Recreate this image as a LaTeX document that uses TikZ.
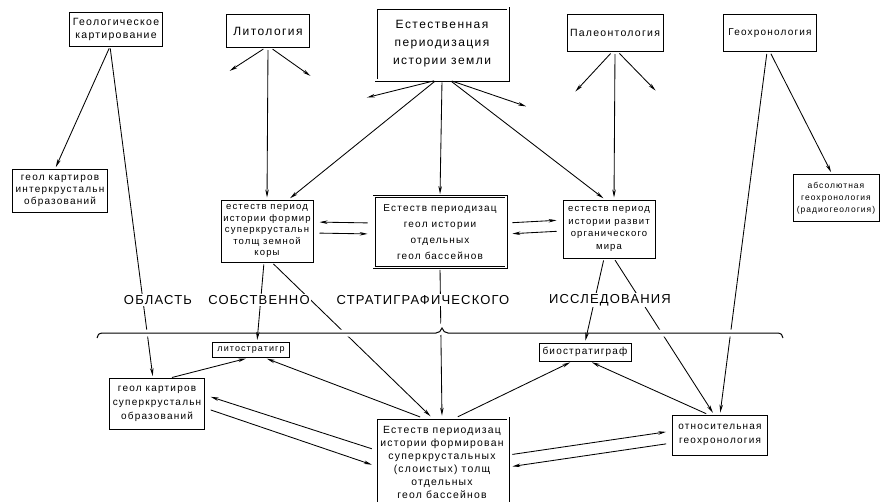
\documentclass[tikz,border=0pt]{standalone}
\usepackage{fontspec}
\setmainfont{Liberation Sans}[LetterSpace=12]
\newfontfamily\capsfont{Liberation Sans}[LetterSpace=9]
\usepackage{tikz}
\usetikzlibrary{arrows.meta}
\newcommand{\fnt}[2]{\fontsize{#1}{#2}\selectfont}

\tikzset{
  box/.style={draw,line width=1pt,align=center,inner sep=1pt},
  dbox/.style={box,double,double distance=1.6pt,line width=0.7pt},
  lbl/.style={fill=white,inner sep=1pt,font=\capsfont\fnt{13}{15}},
  con/.style={line width=0.85pt,->,shorten >=2pt,shorten <=2pt},
}

\begin{document}
\begin{tikzpicture}[x=1pt,y=-1pt,>={Stealth[length=8pt,width=3.5pt]}]
\useasboundingbox (0,0) rectangle (880,501);

\node[box,minimum width=93,minimum height=34,font=\fnt{10.5}{13}] (geokart) at (116,29) {Геологическое\\картирование};
\node[box,minimum width=83,minimum height=33,font=\fnt{12}{14}] (lito) at (268,31) {Литология};
\node[dbox,minimum width=132,minimum height=72,font=\fnt{12}{18}] (estper) at (442,44) {Естественная\\периодизация\\истории земли};
\node[box,minimum width=96,minimum height=37,font=\fnt{10.5}{13}] (paleo) at (615,33) {Палеонтология};
\node[box,minimum width=93,minimum height=37,font=\fnt{10}{13}] (geochr) at (770,33) {Геохронология};

\node[box,minimum width=95,minimum height=43,font=\fnt{10}{12}] (intkart) at (60,191) {геол картиров\\интеркрустальн\\образований};
\node[box,minimum width=92,minimum height=62,font=\fnt{9.5}{11.5}] (supform) at (267,231) {естеств период\\истории формир\\суперкрустальн\\толщ земной\\коры};
\node[dbox,minimum width=132,minimum height=71,font=\fnt{10}{16}] (basper) at (440,232) {Естеств периодизац\\геол истории\\отдельных\\геол бассейнов};
\node[box,minimum width=92,minimum height=58,font=\fnt{9.5}{12.5}] (orgmir) at (609,229) {естеств период\\истории развит\\органического\\мира};
\node[box,minimum width=86,minimum height=47,font=\fnt{8.5}{12}] (absgeo) at (836,198) {абсолютная\\геохронология\\(радиогеология)};

\node[box,minimum width=77,minimum height=15,font=\fnt{9}{10}] (litstr) at (251,350) {литостратигр};
\node[box,minimum width=92,minimum height=18,font=\fnt{10}{11}] (biostr) at (585,352) {биостратиграф};
\node[box,minimum width=95,minimum height=51,font=\fnt{10}{14}] (supkart) at (157,404) {геол картиров\\суперкрустальн\\образований};
\node[dbox,minimum width=132,minimum height=88,font=\fnt{10.4}{13}] (basform) at (442,462) {Естеств периодизац\\истории формирован\\суперкрустальных\\(слоистых) толщ\\отдельных\\геол бассейнов};
\node[box,minimum width=95,minimum height=40,font=\fnt{10}{14}] (otngeo) at (720,435) {относительная\\геохронология};

\coordinate (litL) at (228,72);
\coordinate (litR) at (312,77);
\coordinate (estL) at (365,98);
\coordinate (estR) at (528,107);
\coordinate (palL) at (574,93);
\coordinate (palR) at (657,92);
\coordinate (brL) at (97,338);
\coordinate (brR) at (783,338);

\draw[con] ([xshift=-6pt]geokart.south) -- ([xshift=-5pt]intkart.north);
\draw[con] ([xshift=-6pt]geokart.south) -- ([xshift=-4pt]supkart.north);
\draw[con] (lito.south) -- (supform.north);
\draw[con] ([xshift=-3pt]lito.south) -- (litL);
\draw[con] ([xshift=3pt]lito.south) -- (litR);
\draw[con] ([xshift=-6pt]estper.south) -- (estL);
\draw[con] ([xshift=8pt]estper.south) -- (estR);
\draw[con] ([xshift=-6pt]estper.south) -- ([xshift=-25pt]supform.north east);
\draw[con] (estper.south) -- (basper.north);
\draw[con] ([xshift=8pt]estper.south) -- ([xshift=-4pt]orgmir.north);
\draw[con] ([xshift=-3pt]paleo.south) -- (palL);
\draw[con] ([xshift=3pt]paleo.south) -- (palR);
\draw[con] (paleo.south) -- ([xshift=5pt]orgmir.north);
\draw[con] (geochr.south) -- ([xshift=-4pt]absgeo.north);
\draw[con] ([xshift=-3pt]geochr.south) -- (otngeo.north);

\draw[con,shorten >=6pt,shorten <=6pt] ([yshift=9pt]basper.west) -- ([yshift=9pt]supform.east);
\draw[con,shorten >=6pt,shorten <=6pt] ([yshift=-2pt]supform.east) -- ([yshift=-2pt]basper.west);
\draw[con,shorten >=6pt,shorten <=6pt] ([yshift=9pt]basper.east) -- ([yshift=9pt]orgmir.west);
\draw[con,shorten >=6pt,shorten <=6pt] ([yshift=-2pt]orgmir.west) -- ([yshift=-2pt]basper.east);

\draw[con] ([xshift=5pt]supform.south) -- ([xshift=-10pt]basform.north);
\draw[con] (basper.south) -- (basform.north);
\draw[con] ([xshift=5pt]orgmir.south) -- ([xshift=-6pt]otngeo.north);

% brace over the lower row
\draw[line width=1pt,preaction={draw=white,line width=7pt}]
  (brL) .. controls (97,335) and (99,333) .. (103,333) -- (436,333)
  .. controls (439,333) and (441,331) .. (442,328)
  .. controls (443,331) and (445,333) .. (448,333) -- (777,333)
  .. controls (781,333) and (783,335) .. (brR);

\draw[con] ([xshift=-3pt]supform.south) -- ([xshift=6pt]litstr.north);
\draw[con] ([xshift=-5pt]orgmir.south) -- (biostr.north);

\draw[con] ([xshift=13pt]supkart.north) -- ([xshift=-3pt]litstr.south);
\draw[con] ([xshift=-20pt]basform.north) -- ([xshift=14pt]litstr.south);
\draw[con,shorten >=6pt,shorten <=4pt] ([yshift=12pt]basform.west) -- ([yshift=9pt]supkart.east);
\draw[con,shorten >=4pt,shorten <=6pt] ([yshift=-4pt]supkart.east) -- ([yshift=-4pt]basform.west);
\draw[con] ([xshift=14pt]basform.north) -- ([xshift=-13pt]biostr.south);
\draw[con] ([xshift=-12pt]otngeo.north) -- ([xshift=5pt]biostr.south);
\draw[con,shorten >=6pt,shorten <=4pt] ([yshift=7pt]basform.east) -- ([yshift=4pt]otngeo.west);
\draw[con,shorten >=4pt,shorten <=6pt] ([yshift=-8pt]otngeo.west) -- ([yshift=-5pt]basform.east);

\node[lbl] (oblast) at (158,300) {ОБЛАСТЬ};
\node[lbl] (sobstv) at (259,300) {СОБСТВЕННО};
\node[lbl] (stratig) at (423,300) {СТРАТИГРАФИЧЕСКОГО};
\node[lbl] (issled) at (610,300) {ИССЛЕДОВАНИЯ};
\end{tikzpicture}
\end{document}
